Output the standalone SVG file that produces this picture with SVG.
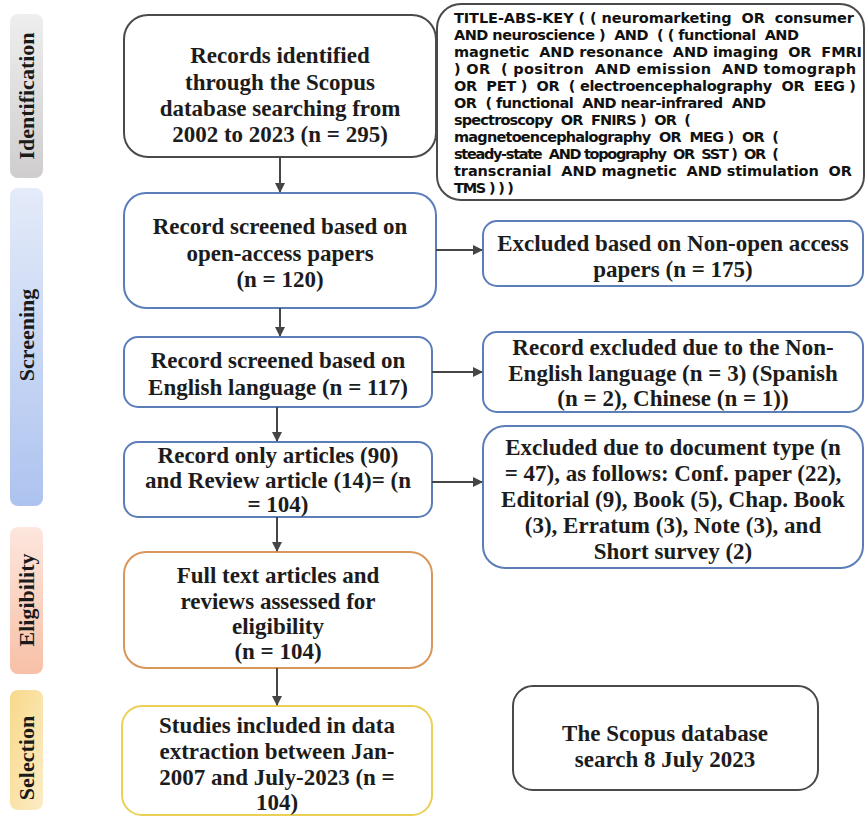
<svg xmlns="http://www.w3.org/2000/svg" width="867" height="816" viewBox="0 0 867 816">
<defs>
<linearGradient id="gId" x1="0" y1="0" x2="0" y2="1"><stop offset="0" stop-color="#efeeee"/><stop offset="1" stop-color="#cfcdcd"/></linearGradient>
<linearGradient id="gSc" x1="0" y1="0" x2="0" y2="1"><stop offset="0" stop-color="#e4ebf9"/><stop offset="1" stop-color="#adc3ef"/></linearGradient>
<linearGradient id="gEl" x1="0" y1="0" x2="0" y2="1"><stop offset="0" stop-color="#fde6de"/><stop offset="1" stop-color="#f7c0a6"/></linearGradient>
<linearGradient id="gSe" x1="0" y1="0" x2="1" y2="1"><stop offset="0" stop-color="#f8d98a"/><stop offset="1" stop-color="#fcecc6"/></linearGradient>
<marker id="ah" markerWidth="10" markerHeight="10" refX="9" refY="5" orient="auto" markerUnits="userSpaceOnUse"><path d="M0,0 L10,5 L0,10 Z" fill="#454545"/></marker>
</defs>
<style>
.stage text{font-family:"Liberation Serif",serif;font-weight:bold;font-size:22px;fill:#1a1a1a;text-anchor:middle}
.box{fill:#fff;stroke-width:2}
.gray{stroke:#4a4a4a}
.blue{stroke:#5b7db8}
.orange{stroke:#d9975c}
.yellow{stroke:#ecd056}
.t{font-family:"Liberation Serif",serif;font-weight:bold;font-size:23px;fill:#1c1c1c;text-anchor:middle}
.q{font-family:"DejaVu Sans",sans-serif;font-weight:bold;font-size:14.5px;fill:#111;white-space:pre}
.conn line{stroke:#454545;stroke-width:2;marker-end:url(#ah)}
</style>
<rect width="867" height="816" fill="#fff"/>

<g id="stage-identification" class="stage"><rect x="10" y="14" width="33" height="164" rx="8" fill="url(#gId)"/><text transform="translate(34,96) rotate(-90)">Identification</text></g>
<g id="stage-screening" class="stage"><rect x="10" y="188" width="33" height="318" rx="8" fill="url(#gSc)"/><text transform="translate(34,335) rotate(-90)">Screening</text></g>
<g id="stage-eligibility" class="stage"><rect x="10" y="527" width="33" height="147" rx="8" fill="url(#gEl)"/><text transform="translate(34,600) rotate(-90)">Eligibility</text></g>
<g id="stage-selection" class="stage"><rect x="10" y="690" width="33" height="120" rx="8" fill="url(#gSe)"/><text transform="translate(34,758) rotate(-90)">Selection</text></g>

<g id="records-identified"><rect class="box gray" x="124" y="15" width="312" height="142" rx="24"/>
<text class="t" x="280" y="63">Records identified</text><text class="t" x="280" y="90">through the Scopus</text><text class="t" x="280" y="116">database searching from</text><text class="t" x="280" y="142">2002 to 2023 (n = 295)</text></g>

<g id="query"><rect class="box gray" x="437" y="4" width="427" height="196" rx="24"/>
<text class="q" x="454" y="23" textLength="400" lengthAdjust="spacing">TITLE-ABS-KEY ( ( neuromarketing  OR  consumer</text>
<text class="q" x="454" y="40" textLength="345" lengthAdjust="spacing">AND neuroscience )  AND  ( ( functional  AND</text>
<text class="q" x="454" y="57" textLength="408" lengthAdjust="spacing">magnetic  AND resonance  AND imaging  OR  FMRI</text>
<text class="q" x="454" y="74" textLength="402" lengthAdjust="spacing">) OR  ( positron  AND emission  AND tomograph</text>
<text class="q" x="454" y="91" textLength="402" lengthAdjust="spacing">OR  PET )  OR  ( electroencephalography  OR  EEG )</text>
<text class="q" x="454" y="108" textLength="312" lengthAdjust="spacing">OR  ( functional  AND near-infrared  AND</text>
<text class="q" x="454" y="125" textLength="237" lengthAdjust="spacing">spectroscopy  OR  FNIRS )  OR  (</text>
<text class="q" x="454" y="142" textLength="325" lengthAdjust="spacing">magnetoencephalography  OR  MEG )  OR  (</text>
<text class="q" x="454" y="159" textLength="325" lengthAdjust="spacing">steady-state  AND topography  OR  SST )  OR  (</text>
<text class="q" x="454" y="176" textLength="398" lengthAdjust="spacing">transcranial  AND magnetic  AND stimulation  OR</text>
<text class="q" x="454" y="193" textLength="60" lengthAdjust="spacing">TMS ) ) )</text></g>

<g id="screened-open-access"><rect class="box blue" x="124" y="193" width="312" height="115" rx="22"/>
<text class="t" x="280" y="234">Record screened based on</text><text class="t" x="280" y="261">open-access papers</text><text class="t" x="280" y="287">(n = 120)</text></g>

<g id="excluded-non-open"><rect class="box blue" x="483" y="221" width="380" height="65" rx="14"/>
<text class="t" x="673" y="251">Excluded based on Non-open access</text><text class="t" x="673" y="277">papers (n = 175)</text></g>

<g id="screened-english"><rect class="box blue" x="124" y="337" width="308" height="70" rx="14"/>
<text class="t" x="278" y="368">Record screened based on</text><text class="t" x="278" y="395">English language (n = 117)</text></g>

<g id="excluded-language"><rect class="box blue" x="483" y="332" width="380" height="80" rx="14"/>
<text class="t" x="673" y="355">Record excluded due to the Non-</text><text class="t" x="673" y="381">English language (n = 3) (Spanish</text><text class="t" x="673" y="406">(n = 2), Chinese (n = 1))</text></g>

<g id="articles-reviews"><rect class="box blue" x="124" y="442" width="308" height="75" rx="14"/>
<text class="t" x="278" y="463">Record only articles (90)</text><text class="t" x="278" y="488">and Review article (14)= (n</text><text class="t" x="278" y="512">= 104)</text></g>

<g id="excluded-doc-type"><rect class="box blue" x="483" y="426" width="380" height="142" rx="22"/>
<text class="t" x="673" y="455">Excluded due to document type (n</text><text class="t" x="673" y="481">= 47), as follows: Conf. paper (22),</text><text class="t" x="673" y="507">Editorial (9), Book (5), Chap. Book</text><text class="t" x="673" y="533">(3), Erratum (3), Note (3), and</text><text class="t" x="673" y="559">Short survey (2)</text></g>

<g id="full-text"><rect class="box orange" x="124" y="552" width="308" height="116" rx="22"/>
<text class="t" x="278" y="583">Full text articles and</text><text class="t" x="278" y="609">reviews assessed for</text><text class="t" x="278" y="634">eligibility</text><text class="t" x="278" y="659">(n = 104)</text></g>

<g id="studies-included"><rect class="box yellow" x="122" y="706" width="310" height="109" rx="20"/>
<text class="t" x="277" y="733">Studies included in data</text><text class="t" x="277" y="759">extraction between Jan-</text><text class="t" x="277" y="785">2007 and July-2023 (n =</text><text class="t" x="277" y="810">104)</text></g>

<g id="search-date"><rect class="box gray" x="513" y="686" width="305" height="104" rx="20"/>
<text class="t" x="665" y="741">The Scopus database</text><text class="t" x="665" y="767">search 8 July 2023</text></g>

<g id="connectors" class="conn">
<line x1="280" y1="157" x2="280" y2="192"/>
<line x1="436" y1="250" x2="482" y2="250"/>
<line x1="280" y1="308" x2="280" y2="336"/>
<line x1="432" y1="372" x2="482" y2="372"/>
<line x1="277" y1="407" x2="277" y2="441"/>
<line x1="432" y1="482" x2="482" y2="482"/>
<line x1="277" y1="517" x2="277" y2="551"/>
<line x1="277" y1="668" x2="277" y2="705"/>
</g>
</svg>
